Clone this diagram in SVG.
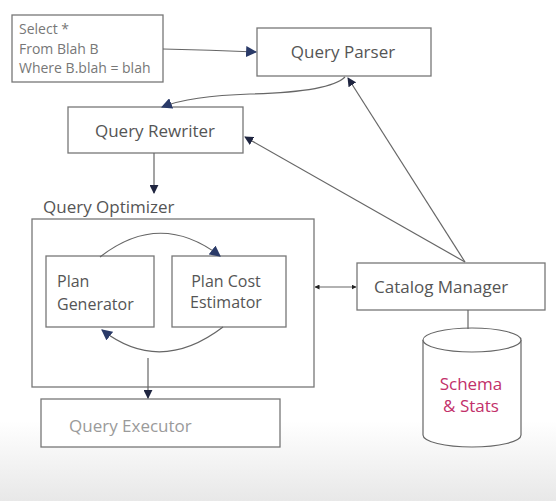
<svg xmlns="http://www.w3.org/2000/svg" width="556" height="501" viewBox="0 0 556 501">
<defs>
<linearGradient id="bg" x1="0" y1="0" x2="0" y2="1">
<stop offset="0" stop-color="#ffffff"/>
<stop offset="0.84" stop-color="#ffffff"/>
<stop offset="1" stop-color="#e8e8e8"/>
</linearGradient>
<marker id="ah" viewBox="0 0 10 10" refX="9" refY="5" markerWidth="9" markerHeight="9" markerUnits="userSpaceOnUse" orient="auto">
<path d="M0,0 L10,5 L0,10 z" fill="#1f2540"/>
</marker>
<marker id="ahb" viewBox="0 0 10 10" refX="9" refY="5" markerWidth="11" markerHeight="11" markerUnits="userSpaceOnUse" orient="auto">
<path d="M0,0 L10,5 L0,10 z" fill="#2a3a68"/>
</marker>
<marker id="sm" viewBox="0 0 10 10" refX="9" refY="5" markerWidth="5" markerHeight="5" markerUnits="userSpaceOnUse" orient="auto-start-reverse">
<path d="M0,0 L10,5 L0,10 z" fill="#222"/>
</marker>
</defs>
<style>
.box{fill:#fff;stroke:#777;stroke-width:1.3}
.t{font-family:"Open Sans","Liberation Sans",sans-serif;font-size:17px;fill:#555}
.s{font-size:16px}
.q{font-family:"Open Sans","Liberation Sans",sans-serif;font-size:14px;fill:#777}
.c{fill:none;stroke:#666;stroke-width:1.2}
</style>
<rect width="556" height="501" fill="url(#bg)"/>
<g id="query-text">
<rect class="box" x="12" y="15" width="151" height="67" stroke="#bbb"/>
<text class="q" x="19" y="34">Select *</text>
<text class="q" x="19" y="54">From Blah B</text>
<text class="q" x="19" y="73">Where B.blah = blah</text>
</g>
<g id="query-parser">
<rect class="box" x="257" y="28" width="174" height="48"/>
<text class="t" x="343" y="58" text-anchor="middle">Query Parser</text>
</g>
<g id="query-rewriter">
<rect class="box" x="68" y="107" width="175" height="46"/>
<text class="t" x="155" y="137" text-anchor="middle">Query Rewriter</text>
</g>
<g id="query-optimizer">
<text class="t" x="43" y="213">Query Optimizer</text>
<rect class="box" x="32" y="219" width="282" height="168"/>
</g>
<g id="plan-generator">
<rect class="box" x="46" y="256" width="108" height="71"/>
<text class="t s" x="57" y="287">Plan</text>
<text class="t s" x="57" y="310">Generator</text>
</g>
<g id="plan-cost-estimator">
<rect class="box" x="172" y="256" width="114" height="71"/>
<text class="t s" x="226" y="287" text-anchor="middle">Plan Cost</text>
<text class="t s" x="226" y="308" text-anchor="middle">Estimator</text>
</g>
<g id="query-executor">
<rect class="box" x="41" y="399" width="239" height="48" stroke="#ccc"/>
<text class="t" x="69" y="432" style="fill:#9a9a9a">Query Executor</text>
</g>
<g id="catalog-manager">
<rect class="box" x="357" y="263" width="188" height="47"/>
<text class="t" x="374" y="293">Catalog Manager</text>
</g>
<g id="schema-stats">
<path d="M423,340 L423,435 A49,12 0 0 0 521,435 L521,340" fill="#fff" stroke="#666" stroke-width="1.2"/>
<ellipse cx="472" cy="340" rx="49" ry="12" fill="#fff" stroke="#666" stroke-width="1.2"/>
<text class="t" x="471" y="390" text-anchor="middle" style="fill:#c2306a">Schema</text>
<text class="t" x="471" y="412" text-anchor="middle" style="fill:#c2306a">&amp; Stats</text>
</g>
<g id="connectors">
<path class="c" d="M163,49 Q210,50 256,52" marker-end="url(#ahb)"/>
<path class="c" d="M345,77 Q330,92 250,94 Q190,96 162,107" marker-end="url(#ahb)"/>
<path class="c" d="M465,262 L348,78" stroke="#333" marker-end="url(#ah)"/>
<path class="c" d="M465,262 L245,137" stroke="#333" marker-end="url(#ah)"/>
<path class="c" d="M154,153 L154,193" stroke="#333" marker-end="url(#ah)"/>
<path class="c" d="M100,257 Q160,210 220,256" marker-end="url(#ahb)"/>
<path class="c" d="M223,327 Q160,375 102,330" marker-end="url(#ahb)"/>
<path class="c" d="M148,358 L148,398" stroke="#333" stroke-width="1.5" marker-end="url(#ah)"/>
<path class="c" d="M315,287 L356,287" stroke="#333" marker-start="url(#sm)" marker-end="url(#sm)"/>
<path class="c" d="M468,310 L468,329" stroke="#555"/>
</g>
</svg>
